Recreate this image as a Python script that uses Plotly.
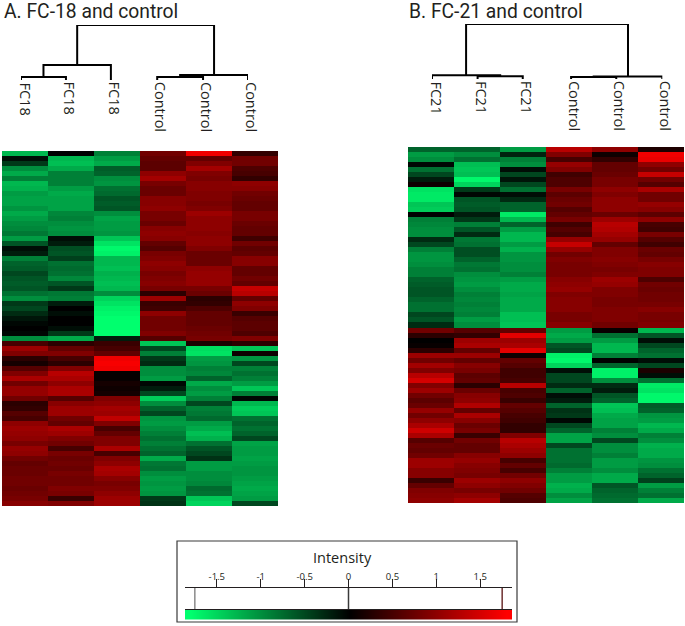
import plotly.graph_objects as go

W, H = 685, 626

# ---------- Panel A: rows top to bottom ----------
a_fc18_1 = [-1.3,-0.1,-0.4,-1.0,-1.2,-0.9,-1.3,-1.25,-1.1,-1.15,-1.15,-1.05,-1.2,-1.1,-1.0,-0.95,-0.85,-1.1,-0.6,-0.1,-0.2,-0.9,-0.7,-0.65,-0.5,-0.6,-0.65,-0.6,-0.8,-1.0,-0.4,-0.5,-0.3,-0.15,-0.05,0,-0.05,
 -1.0,0.5,1.1,0.9,0.3,0.15,0.6,0.9,1.2,0.8,1.05,1.05,0.8,0.3,0.35,0.6,0.5,1.0,1.1,1.05,1.0,0.85,1.05,1.0,0.8,0.7,0.75,0.75,0.8,0.8,0.75,0.8,0.85,0.95]
a_fc18_2 = [0,-1.3,-1.35,-1.2,-0.9,-0.9,-0.9,-1.1,-1.2,-1.15,-1.15,-1.15,-0.95,-0.9,-1.0,-1.05,-1.0,-0.1,-0.2,-0.55,-0.6,-0.45,-0.8,-0.75,-0.8,-0.95,-0.6,-0.4,-0.85,-0.9,-0.2,0,-0.1,0,0,-0.1,-0.4,
 -1.2,0.3,0.7,0.9,0.5,0.3,0.9,1.3,1.2,1.0,1.2,1.2,0.6,0.95,1.1,1.1,0.8,0.7,1.2,1.1,0.9,0.8,0.5,0.85,0.75,0.8,0.75,0.85,0.8,0.8,0.9,0.85,0.4,0.9]
a_fc18_3 = [-0.9,-1.1,-1.2,-0.65,-0.7,-1.0,-1.05,-0.8,-0.75,-0.6,-0.65,-0.6,-1.0,-1.15,-1.1,-1.1,-1.05,-1.4,-1.6,-1.75,-1.7,-1.3,-1.3,-1.35,-1.25,-1.3,-1.35,-1.3,-1.0,-1.5,-1.6,-1.7,-1.75,-1.8,-1.8,-1.8,-1.8,
 -0.2,0.4,0.5,0.7,1.7,1.75,1.7,0.05,0.05,0.15,0.1,0.15,0.9,1.0,1.15,1.1,1.35,0.9,0.5,0.7,0.9,0.9,1.2,0.5,0.9,1.0,1.2,1.15,0.95,0.85,0.9,1.0,1.1,1.1]
a_ctrl_1 = [0.8,0.7,0.65,0.65,1.0,1.15,0.85,0.75,0.75,0.95,0.95,1.0,0.85,0.85,0.75,0.95,1.0,0.95,0.7,0.6,0.85,0.9,1.0,0.95,0.85,0.9,0.95,0.85,0.3,1.1,0.4,0.45,1.0,0.8,0.8,0.8,0.9,
 0.6,-1.4,-0.5,-0.9,-0.4,-0.3,-1.0,-1.0,-1.1,-0.05,-0.2,-0.5,-1.45,-1.0,-0.7,-0.5,-1.05,-1.1,-1.0,-0.9,-0.8,-0.9,-0.8,-0.7,-1.2,-0.85,-0.8,-1.0,-1.1,-1.05,-1.1,-1.05,-0.4,-0.35]
a_ctrl_2 = [1.7,0.7,0.9,1.15,0.9,0.85,0.95,0.95,0.9,0.9,0.85,0.9,1.1,1.0,1.0,1.0,0.95,1.0,1.0,0.9,0.75,0.75,0.75,1.0,1.05,1.05,1.05,0.85,0.75,0.3,0.35,0.55,0.7,0.7,0.7,0.75,0.8,
 0.85,0.2,-1.55,-1.6,-1.1,-1.05,-0.9,-0.95,-0.7,-1.2,-1.0,-1.1,-0.9,-0.5,-0.9,-0.85,-0.75,-1.1,-1.2,-1.35,-1.25,-0.8,-0.6,-0.5,-0.35,-1.1,-1.1,-1.0,-1.0,-0.95,-0.75,-0.8,-1.4,-1.5]
a_ctrl_3 = [0.35,0.8,0.8,0.55,0.5,0.35,1.0,0.95,0.8,0.75,0.7,0.7,0.85,0.85,0.75,0.7,0.7,0.45,0.8,0.65,0.7,0.95,0.95,0.7,0.7,0.8,0.7,1.4,1.3,0.7,1.0,0.9,0.4,0.6,0.65,0.65,0.55,
 0.9,0.3,-1.4,0.1,-1.05,-0.5,-0.9,-0.8,-0.9,-1.1,-1.4,-0.9,-0.05,-1.3,-1.45,-1.4,-0.8,-0.7,-0.8,-0.7,-0.5,-1.15,-1.1,-1.1,-1.15,-1.1,-1.05,-1.05,-1.1,-1.15,-1.2,-1.15,-1.1,-0.5]

# ---------- Panel B: rows top to bottom ----------
b_fc21_1 = [-0.7,-1.1,-1.0,-0.05,-0.8,-0.5,-0.2,0.1,-1.6,-1.65,-1.65,-1.4,-1.45,0,-0.9,-0.95,-1.0,-1.0,-0.3,-0.5,-0.9,-1.05,-1.05,-1.0,-0.9,-0.9,-0.7,-0.65,-0.6,-0.6,-0.7,-0.8,-0.8,-0.5,-0.6,-0.3,
 0.8,0.3,0,0.05,0.3,1.1,0.8,1.15,0.9,1.3,1.5,0.9,1.1,0.8,0.65,0.75,1.05,0.8,1.0,1.2,1.45,1.2,0.6,0.75,0.7,0.8,1.1,1.1,0.95,0.95,0.4,0.7,0.9,0.95,1.0]
b_fc21_2 = [-0.7,-1.0,-0.8,-1.35,-1.4,-1.35,-1.75,-1.5,-0.4,-0.05,-0.6,-0.65,-0.6,-0.2,-0.4,-0.9,-0.6,-0.3,-0.85,-0.8,-0.55,-0.55,-0.7,-0.85,-0.8,-1.0,-1.05,-1.1,-1.0,-0.9,-0.95,-0.9,-0.95,-0.9,-1.1,-1.0,
 0.6,0.35,1.1,1.2,0.7,1.1,0.7,0.95,0.85,0.65,0.7,0.3,0.75,0.95,1.0,1.25,0.7,1.2,0.95,0.75,0.85,0.4,0.8,0.7,0.7,0.95,1.05,0.95,0.9,0.85,1.1,1.0,0.85,1.0,1.15]
b_fc21_3 = [-1.1,-0.25,-0.9,-1.0,-0.1,-0.5,-0.15,-0.5,-0.8,-0.1,-0.3,-0.7,-0.7,-1.65,-1.3,-0.7,-1.1,-1.3,-1.3,-1.1,-1.25,-1.05,-1.05,-1.0,-1.0,-0.9,-1.1,-1.2,-1.2,-1.15,-1.2,-1.2,-1.2,-1.35,-1.35,-1.4,
 0.7,1.6,1.1,1.2,1.6,0.1,0.7,0.6,0.45,0.45,0.5,1.3,0.5,0.55,0.4,0.7,0.6,0.5,0.45,0.35,0.35,0.9,1.3,1.2,1.1,1.0,0.5,0.7,0.5,0.8,1.0,0.9,0.8,0.6,0.55]
b_ctrl_1 = [1.3,0.9,0.5,1.05,0.9,0.45,0.55,0.55,0.85,0.65,0.75,0.8,0.6,0.7,0.85,0.45,0.6,0.5,1.05,1.4,1.05,0.8,0.9,0.85,0.85,0.85,0.95,1.0,1.05,0.9,0.95,0.95,0.95,0.85,0.85,0.95,
 -1.1,-1.2,-1.1,-0.6,-0.5,-1.7,-1.75,-1.5,-0.1,-0.5,-0.5,-0.3,-0.7,-0.1,-0.2,-0.7,-0.35,-0.4,-0.05,-0.5,-0.7,-1.15,-1.15,-0.5,-0.8,-0.8,-0.8,-0.75,-0.9,-1.1,-1.1,-1.25,-1.2,-1.0,-1.15]
b_ctrl_2 = [1.0,0.1,0.35,0.7,0.7,0.75,0.85,0.85,1.0,0.9,1.0,1.0,1.0,0.75,1.1,1.3,1.25,1.15,1.05,0.7,0.9,0.9,0.95,0.9,0.85,0.9,1.1,1.05,0.9,0.9,0.85,0.85,0.9,0.9,0.9,0.8,
 0.05,-0.8,-1.1,-1.3,-1.3,-0.9,0,-0.7,-1.7,-1.7,-1.0,-0.3,-0.2,-0.6,-0.7,-1.4,-1.35,-1.2,-1.15,-1.15,-0.9,-1.0,-0.5,-1.0,-1.0,-0.9,-1.1,-1.1,-1.0,-1.2,-1.2,-0.6,-0.7,-0.75,-0.8]
b_ctrl_3 = [0.2,1.7,1.65,1.0,0.8,1.4,0.8,0.6,1.2,0.8,0.8,1.05,0.95,0.65,1.0,0.5,0.45,0.85,0.6,0.45,0.75,0.7,0.85,0.95,0.9,0.9,0.55,0.8,0.75,0.8,0.8,0.85,0.95,0.85,0.85,0.9,
 -1.3,-0.6,-0.1,-0.5,-0.7,-0.8,-0.1,-0.5,0.2,-0.1,-0.8,-1.65,-1.6,-1.75,-1.75,-0.65,-0.7,-1.05,-1.1,-1.3,-1.2,-0.9,-1.0,-1.25,-1.2,-1.2,-1.05,-1.0,-0.8,-0.7,-0.45,-1.1,-0.9,-0.8,-1.2]

columns_a = [a_fc18_1, a_fc18_2, a_fc18_3, a_ctrl_1, a_ctrl_2, a_ctrl_3]
columns_b = [b_fc21_1, b_fc21_2, b_fc21_3, b_ctrl_1, b_ctrl_2, b_ctrl_3]
for c in columns_a + columns_b:
    assert len(c) == 71, [len(k) for k in columns_a + columns_b]

# ---------- Dendrograms: merges (left node, right node, height); nodes >= 6 are earlier merges ----------
labels_a = ["FC18", "FC18", "FC18", "Control", "Control", "Control"]
labels_b = ["FC21", "FC21", "FC21", "Control", "Control", "Control"]
leaf_pos_a = [0, 0.99, 1.98, 3, 4.01, 5]
leaf_pos_b = [0, 1, 1.99, 3.05, 4.04, 5.05]
merges_a = [(0, 1, 3), (6, 2, 15), (3, 4, 3), (8, 5, 5), (7, 9, 55)]
merges_b = [(1, 2, 2.7), (0, 6, 3.7), (3, 4, 2), (8, 5, 2.5), (7, 9, 55)]

# ---------- Intensity key ----------
key_tick_vals = [-1.5, -1, -0.5, 0, 0.5, 1, 1.5]
key_tick_text = ["-1.5", "-1", "-0.5", "0", "0.5", "1", "1.5"]
key_marks = [-1.75, 0, 1.75]
key_mark_colors = ["#8a8a8a", "#3a3a3a", "#6e3030"]
key_stops = [-1.86, -1.4, -1.0, -0.6, -0.3, 0, 0.3, 0.6, 1.0, 1.4, 1.86]

colorscale = [[0, "rgb(0,255,110)"], [0.5, "rgb(0,0,0)"], [1, "rgb(255,0,0)"]]
Z = 1.8


def xd(a, b):
    return [a / W, b / W]


def yd(top, bottom):
    return [1 - bottom / H, 1 - top / H]


def tree_segments(merges, leaf_pos):
    pos = list(leaf_pos)
    hgt = [0] * len(leaf_pos)
    xs, ys = [], []
    for l, r, h in merges:
        xs += [pos[l], pos[l], pos[r], pos[r], None]
        ys += [hgt[l], h, h, hgt[r], None]
        pos.append((pos[l] + pos[r]) / 2)
        hgt.append(h)
    return xs, ys


fig = go.Figure()
hidden = dict(visible=False, fixedrange=True)
layout = dict(
    width=W, height=H, margin=dict(l=0, r=0, t=0, b=0), autosize=False,
    paper_bgcolor="white", plot_bgcolor="rgba(0,0,0,0)", showlegend=False,
    font=dict(family="Open Sans, Noto Sans, sans-serif", color="#231f20"),
)


def panel(n, cols, labels, leaf_pos, merges, hx, hy, dx, dy):
    i_map, i_tree = 2 * n - 1, 2 * n
    z = [list(r) for r in zip(*cols)]
    fig.add_trace(go.Heatmap(z=z, zmin=-Z, zmax=Z, colorscale=colorscale, showscale=False,
                             xaxis=f"x{i_map}", yaxis=f"y{i_map}", hoverinfo="skip"))
    layout[f"xaxis{i_map}"] = dict(domain=xd(*hx), anchor=f"y{i_map}", **hidden)
    layout[f"yaxis{i_map}"] = dict(domain=yd(*hy), anchor=f"x{i_map}", autorange="reversed", **hidden)
    xs, ys = tree_segments(merges, leaf_pos)
    fig.add_trace(go.Scatter(x=xs, y=ys, mode="lines", line=dict(color="black", width=2),
                             cliponaxis=False, xaxis=f"x{i_tree}", yaxis=f"y{i_tree}", hoverinfo="skip"))
    layout[f"xaxis{i_tree}"] = dict(domain=xd(*dx), range=[0, max(leaf_pos)], anchor=f"y{i_tree}", **hidden)
    layout[f"yaxis{i_tree}"] = dict(domain=yd(*dy), range=[0, 55], anchor=f"x{i_tree}", **hidden)
    anns = []
    for p, t in zip(leaf_pos, labels):
        anns.append(dict(text=t, x=p, y=0, xref=f"x{i_tree}", yref=f"y{i_tree}", showarrow=False,
                         textangle=90, xanchor="center", yanchor="top", yshift=-1, xshift=4,
                         font=dict(size=14.5), borderpad=0))
    return anns


anns = []
anns += panel(1, columns_a, labels_a, leaf_pos_a, merges_a, (2, 278), (151, 506), (21, 248), (25, 80))
anns += panel(2, columns_b, labels_b, leaf_pos_b, merges_b, (408, 684), (147, 503), (432, 662.3), (24, 79))

title_font = dict(family="Roboto, Open Sans, sans-serif", size=19.3)
anns.append(dict(text="A. FC-18 and control", x=3 / W, y=1 - 11.5 / H, xref="paper", yref="paper",
                 showarrow=False, xanchor="left", yanchor="middle", font=title_font, borderpad=0))
anns.append(dict(text="B. FC-21 and control", x=408 / W, y=1 - 11.5 / H, xref="paper", yref="paper",
                 showarrow=False, xanchor="left", yanchor="middle", font=title_font, borderpad=0))
anns.append(dict(text="Intensity", x=342.5 / W, y=1 - 557 / H, xref="paper", yref="paper",
                 showarrow=False, xanchor="center", yanchor="middle", font=dict(size=14.5), borderpad=0))

# key: scale axis with the marks on it
x_range = [-1.862, 1.862]
for v, col in zip(key_marks, key_mark_colors):
    fig.add_trace(go.Scatter(x=[v, v], y=[0, 1], mode="lines", line=dict(color=col, width=1.5),
                             cliponaxis=False, xaxis="x5", yaxis="y5", hoverinfo="skip"))
layout["xaxis5"] = dict(domain=xd(185, 512), range=x_range, anchor="y5", side="top", showline=True,
                        linecolor="#231f20", linewidth=1, ticks="outside", ticklen=8, tickwidth=1,
                        tickcolor="#231f20", tickmode="array", tickvals=key_tick_vals,
                        ticktext=key_tick_text, tickfont=dict(size=9.5, color="#231f20"),
                        ticklabelstandoff=-5,
                        showgrid=False, zeroline=False, fixedrange=True)
layout["yaxis5"] = dict(domain=yd(588, 609), range=[0, 1], anchor="x5", **hidden)

# key: gradient bar
fig.add_trace(go.Heatmap(z=[key_stops], x=key_stops, zmin=-Z, zmax=Z, colorscale=colorscale,
                         showscale=False, zsmooth="best", xaxis="x6", yaxis="y6", hoverinfo="skip"))
layout["xaxis6"] = dict(domain=xd(185, 512), range=x_range, anchor="y6", side="top", showline=True,
                        linecolor="#231f20", linewidth=1, showticklabels=False, ticks="",
                        showgrid=False, zeroline=False, fixedrange=True)
layout["yaxis6"] = dict(domain=yd(609.5, 620), anchor="x6", **hidden)

layout["shapes"] = [dict(type="rect", xref="paper", yref="paper", x0=177 / W, x1=517 / W,
                         y0=1 - 622 / H, y1=1 - 541 / H, line=dict(color="#3a3a3a", width=1.2),
                         fillcolor="rgba(0,0,0,0)", layer="below")]
layout["annotations"] = anns
fig.update_layout(**layout)
fig.write_html("out.html", config=dict(displayModeBar=False, staticPlot=True),
               post_script="document.body.style.margin='0';document.documentElement.style.overflow='hidden';")
